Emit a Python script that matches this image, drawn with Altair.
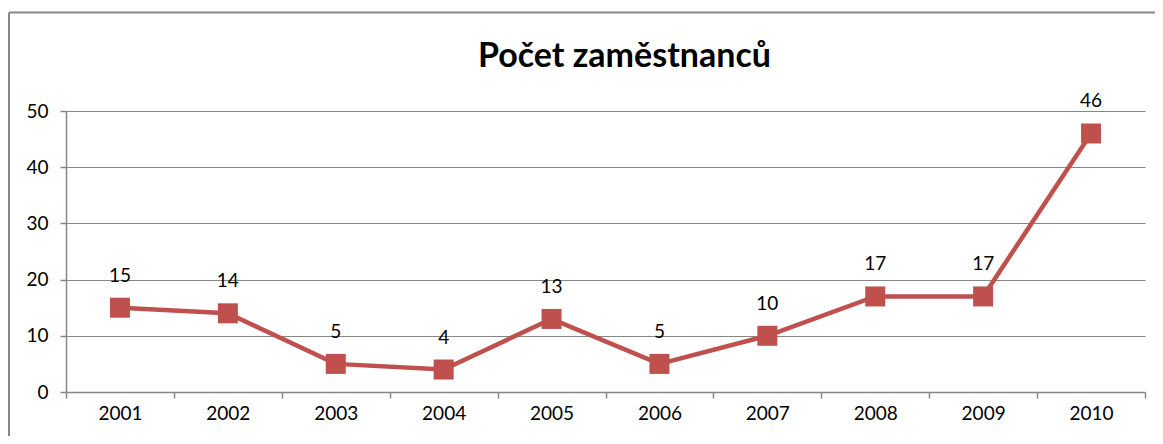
import altair as alt
import pandas as pd

years = ["2001", "2002", "2003", "2004", "2005", "2006", "2007", "2008", "2009", "2010"]
counts = [15, 14, 5, 4, 13, 5, 10, 17, 17, 46]
title_text = "Počet zaměstnanců"

df = pd.DataFrame({"rok": years, "pocet": counts})

FONT = "Lato"
RED = "#C0504D"
GRAY = "#868686"

W, H = 1079, 281

x = alt.X("rok:N", sort=years, title=None,
          scale=alt.Scale(paddingInner=0, paddingOuter=0),
          axis=alt.Axis(labelAngle=0, tickBand="extent", grid=False,
                        domainColor=GRAY, tickColor=GRAY, tickSize=6,
                        labelFont=FONT, labelFontSize=19, labelColor="black",
                        labelPadding=6, domainWidth=1.5, tickWidth=1.5))
y = alt.Y("pocet:Q", title=None,
          scale=alt.Scale(domain=[0, 50]),
          axis=alt.Axis(values=[0, 10, 20, 30, 40, 50], grid=True, gridColor=GRAY,
                        gridWidth=1.2, domainColor=GRAY, tickColor=GRAY, tickSize=6,
                        labelFont=FONT, labelFontSize=19, labelColor="black",
                        labelPadding=12, domainWidth=1.5, tickWidth=1.5))

base = alt.Chart(df)
line = base.mark_line(color=RED, strokeWidth=4.5).encode(x=x, y=y)
pts = base.mark_point(shape="square", filled=True, size=400, color=RED, opacity=1).encode(x=x, y=y)
labels = base.mark_text(font=FONT, fontSize=19, color="black", dy=-32, baseline="middle").encode(
    x=x, y=y, text="pocet:Q")

one = alt.Chart(pd.DataFrame({"t": [title_text]}))
top = one.mark_rule(color=GRAY, strokeWidth=2).encode(
    x=alt.value(-57), x2=alt.value(W + 30), y=alt.value(-98.5))
left = one.mark_rule(color=GRAY, strokeWidth=2).encode(
    x=alt.value(-57), y=alt.value(-98.5), y2=alt.value(H + 60))
title = one.mark_text(font=FONT, fontSize=34, fontWeight="bold", color="black",
                      align="center", baseline="alphabetic").encode(
    x=alt.value(558.5), y=alt.value(-44), text="t:N")

chart = alt.layer(top, left, title, line, pts, labels).properties(
    width=W, height=H,
    autosize=alt.AutoSizeParams(type="none"),
    padding={"left": 58, "top": 103, "right": 10, "bottom": 44},
).configure_view(stroke=None)

chart.save("out.html", embed_options={"renderer": "svg", "actions": False})
